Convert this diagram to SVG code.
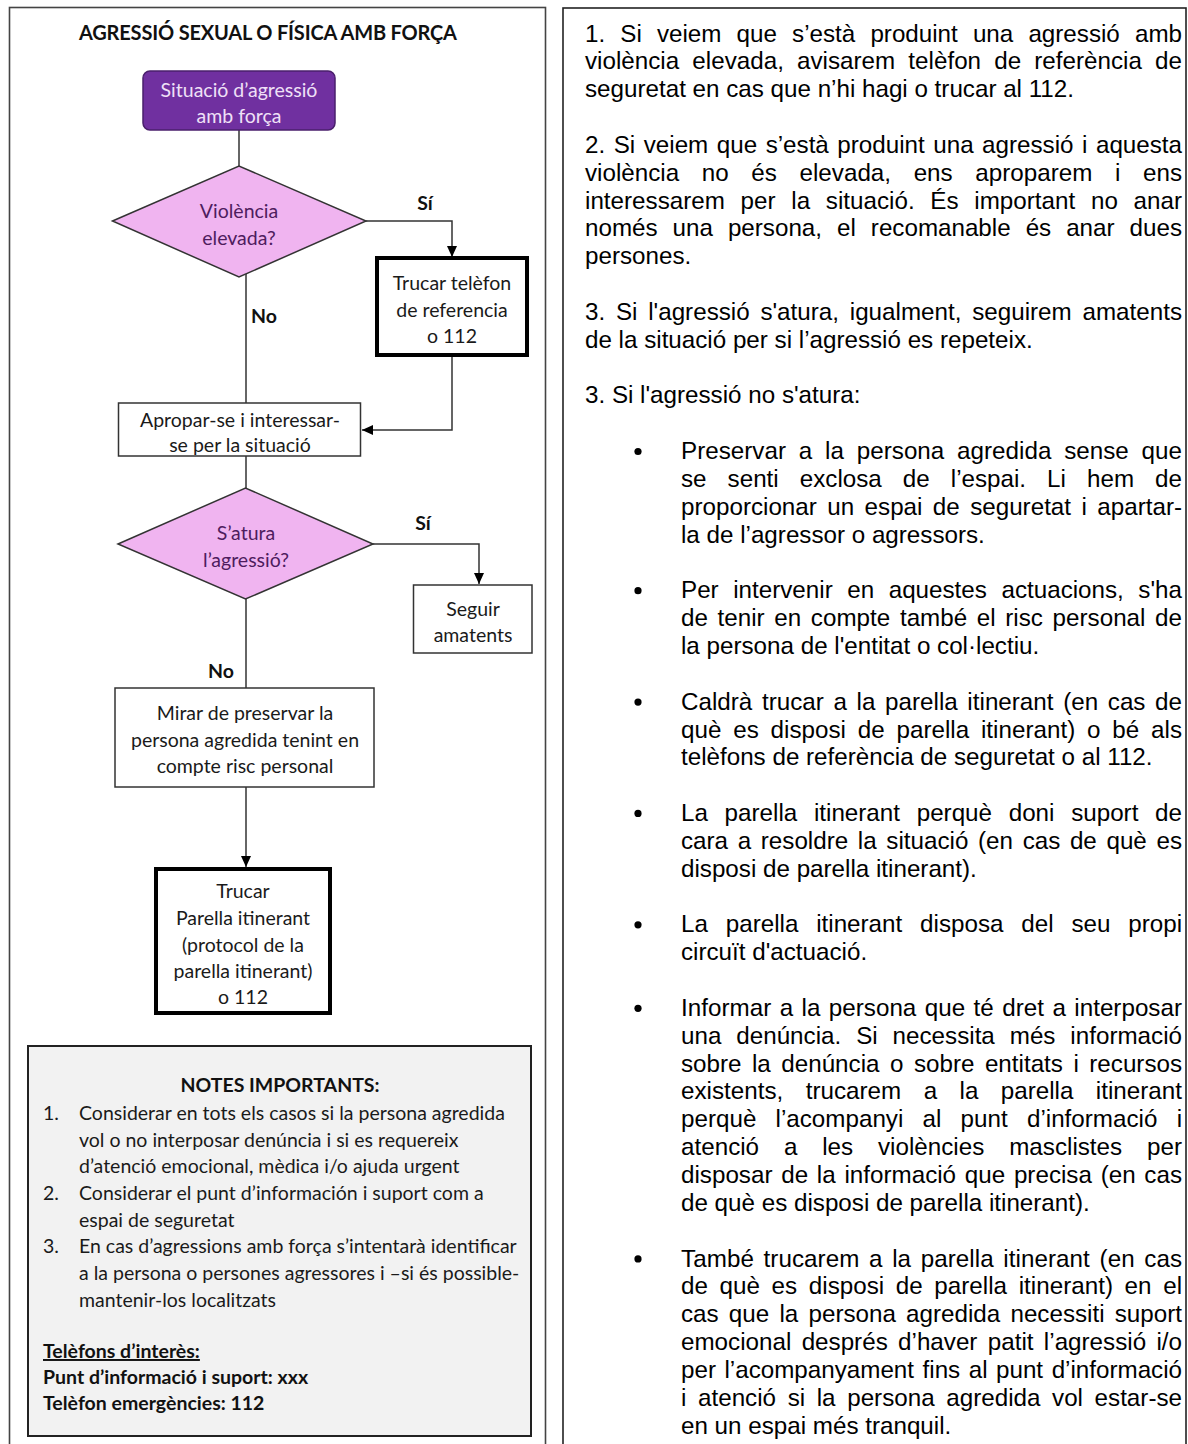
<svg xmlns="http://www.w3.org/2000/svg" width="1188" height="1444" viewBox="0 0 1188 1444">
<style>
.panel{fill:#fff;stroke:#444;stroke-width:1.6}
.box{fill:#fff;stroke:#333;stroke-width:1.5}
.thick{fill:#fff;stroke:#000;stroke-width:4}
.dia{fill:#f0b4f0;stroke:#333;stroke-width:1.5}
.start{fill:#7030a0;stroke:#4a1f6c;stroke-width:1.5}
.notes{fill:#f2f2f2;stroke:#222;stroke-width:2}
.t{font-family:Lato,"Liberation Sans",sans-serif;font-size:19.5px;fill:#1a1a1a;text-anchor:middle}
.tw{font-family:Lato,"Liberation Sans",sans-serif;font-size:19.5px;fill:#efe0f7;text-anchor:middle}
.tp{font-family:Lato,"Liberation Sans",sans-serif;font-size:19.5px;fill:#4e1c5e;text-anchor:middle}
.lb{font-family:Lato,"Liberation Sans",sans-serif;font-size:19.5px;font-weight:bold;fill:#111;text-anchor:middle}
.n{font-family:Lato,"Liberation Sans",sans-serif;font-size:19.5px;fill:#1a1a1a}
.nb{font-family:Lato,"Liberation Sans",sans-serif;font-size:19.5px;font-weight:bold;fill:#111}
.r{font-family:"Liberation Sans",Arial,sans-serif;font-size:24.2px;fill:#000}
.c{fill:none;stroke:#333;stroke-width:1.5}
</style>
<defs>
<marker id="ah" markerUnits="userSpaceOnUse" markerWidth="12" markerHeight="12" viewBox="0 0 12 12" refX="11" refY="6" orient="auto">
<path d="M0,1 L11,6 L0,11 Z" fill="#000"/>
</marker>
</defs>

<g id="panels">
<rect class="panel" x="9.5" y="7.5" width="536" height="1470"/>
<rect class="panel" x="563" y="8" width="623" height="1470" style="stroke:#222"/>
</g>

<g id="title">
<text x="268" y="40" class="lb" style="font-size:20px" textLength="378" lengthAdjust="spacing">AGRESSIÓ SEXUAL O FÍSICA AMB FORÇA</text>
</g>

<g id="connectors">
<path class="c" d="M239,130 L239,166"/>
<path class="c" d="M366,221 L452,221 L452,257" marker-end="url(#ah)"/>
<path class="c" d="M246,274 L246,403"/>
<path class="c" d="M452,355 L452,430 L362,430" marker-end="url(#ah)"/>
<path class="c" d="M246,456 L246,488"/>
<path class="c" d="M373,544 L479,544 L479,584" marker-end="url(#ah)"/>
<path class="c" d="M246,599 L246,688"/>
<path class="c" d="M246,787 L246,867" marker-end="url(#ah)"/>
<text x="425" y="210" class="lb">Sí</text>
<text x="264" y="323" class="lb">No</text>
<text x="423" y="530" class="lb">Sí</text>
<text x="221" y="678" class="lb">No</text>
</g>

<g id="n-start">
<rect class="start" x="143" y="71" width="192" height="59" rx="7"/>
<text x="239" y="97" class="tw">Situació d’agressió</text>
<text x="239" y="123" class="tw">amb força</text>
</g>

<g id="n-violencia">
<polygon class="dia" points="112.5,221 239,166 366,221 239,277"/>
<text x="239" y="218" class="tp">Violència</text>
<text x="239" y="245" class="tp">elevada?</text>
</g>

<g id="n-trucar1">
<rect class="thick" x="377" y="258" width="150" height="97"/>
<text x="452" y="290" class="t">Trucar telèfon</text>
<text x="452" y="316.5" class="t">de referencia</text>
<text x="452" y="343" class="t">o 112</text>
</g>

<g id="n-apropar">
<rect class="box" x="118.5" y="403" width="242" height="53"/>
<text x="240" y="427" class="t">Apropar-se i interessar-</text>
<text x="240" y="452" class="t">se per la situació</text>
</g>

<g id="n-satura">
<polygon class="dia" points="118,544 245.5,488 373,544 245.5,599"/>
<text x="246" y="540" class="tp">S’atura</text>
<text x="246" y="567" class="tp">l’agressió?</text>
</g>

<g id="n-seguir">
<rect class="box" x="413.5" y="585" width="118.5" height="68"/>
<text x="473" y="615.5" class="t">Seguir</text>
<text x="473" y="641.5" class="t">amatents</text>
</g>

<g id="n-mirar">
<rect class="box" x="115" y="688" width="259" height="99"/>
<text x="245" y="720" class="t">Mirar de preservar la</text>
<text x="245" y="746.5" class="t">persona agredida tenint en</text>
<text x="245" y="773" class="t">compte risc personal</text>
</g>

<g id="n-trucar2">
<rect class="thick" x="156" y="869" width="174" height="144"/>
<text x="243" y="898" class="t">Trucar</text>
<text x="243" y="925" class="t">Parella itinerant</text>
<text x="243" y="951.5" class="t">(protocol de la</text>
<text x="243" y="977.5" class="t">parella itinerant)</text>
<text x="243" y="1004" class="t">o 112</text>
</g>

<g id="n-notes">
<rect class="notes" x="28" y="1046" width="503" height="390"/>
<text x="280" y="1092" class="lb">NOTES IMPORTANTS:</text>
<text x="43" y="1120" class="n">1.</text>
<text x="79" y="1120" class="n">Considerar en tots els casos si la persona agredida</text>
<text x="79" y="1146.7" class="n">vol o no interposar denúncia i si es requereix</text>
<text x="79" y="1173.3" class="n">d’atenció emocional, mèdica i/o ajuda urgent</text>
<text x="43" y="1200" class="n">2.</text>
<text x="79" y="1200" class="n">Considerar el punt d’información i suport com a</text>
<text x="79" y="1226.7" class="n">espai de seguretat</text>
<text x="43" y="1253.3" class="n">3.</text>
<text x="79" y="1253.3" class="n">En cas d’agressions amb força s’intentarà identificar</text>
<text x="79" y="1280" class="n">a la persona o persones agressores i –si és possible-</text>
<text x="79" y="1306.7" class="n">mantenir-los localitzats</text>
<text x="43" y="1358" class="nb" text-decoration="underline">Telèfons d’interès:</text>
<text x="43" y="1384" class="nb">Punt d’informació i suport: xxx</text>
<text x="43" y="1410" class="nb">Telèfon emergències: 112</text>
</g>

<g id="right-text">
<text class="r" x="585" y="41.5" textLength="597" lengthAdjust="spacing" style="word-spacing:8.4px">1. Si veiem que s’està produint una agressió amb</text>
<text class="r" x="585" y="69.3" textLength="597" lengthAdjust="spacing" style="word-spacing:6.4px">violència elevada, avisarem telèfon de referència de</text>
<text class="r" x="585" y="97.2">seguretat en cas que n’hi hagi o trucar al 112.</text>

<text class="r" x="585" y="152.9" textLength="597" lengthAdjust="spacing" style="word-spacing:1.8px">2. Si veiem que s’està produint una agressió i aquesta</text>
<text class="r" x="585" y="180.7" textLength="597" lengthAdjust="spacing" style="word-spacing:15.9px">violència no és elevada, ens aproparem i ens</text>
<text class="r" x="585" y="208.5" textLength="597" lengthAdjust="spacing" style="word-spacing:9px">interessarem per la situació. És important no anar</text>
<text class="r" x="585" y="236.4" textLength="597" lengthAdjust="spacing" style="word-spacing:8.3px">només una persona, el recomanable és anar dues</text>
<text class="r" x="585" y="264.2">persones.</text>

<text class="r" x="585" y="319.9" textLength="597" lengthAdjust="spacing" style="word-spacing:4px">3. Si l'agressió s'atura, igualment, seguirem amatents</text>
<text class="r" x="585" y="347.7">de la situació per si l’agressió es repeteix.</text>

<text class="r" x="585" y="403.4">3. Si l'agressió no s'atura:</text>

<circle cx="638" cy="451.5" r="3.6"/>
<text class="r" x="681" y="459.1" textLength="501" lengthAdjust="spacing" style="word-spacing:6.1px">Preservar a la persona agredida sense que</text>
<text class="r" x="681" y="486.9" textLength="501" lengthAdjust="spacing" style="word-spacing:14.3px">se senti exclosa de l’espai. Li hem de</text>
<text class="r" x="681" y="514.8" textLength="501" lengthAdjust="spacing" style="word-spacing:3.7px">proporcionar un espai de seguretat i apartar-</text>
<text class="r" x="681" y="542.6">la de l’agressor o agressors.</text>

<circle cx="638" cy="590.7" r="3.6"/>
<text class="r" x="681" y="598.3" textLength="501" lengthAdjust="spacing" style="word-spacing:7.8px">Per intervenir en aquestes actuacions, s'ha</text>
<text class="r" x="681" y="626.1" textLength="501" lengthAdjust="spacing" style="word-spacing:2.9px">de tenir en compte també el risc personal de</text>
<text class="r" x="681" y="654">la persona de l'entitat o col·lectiu.</text>

<circle cx="638" cy="702.1" r="3.6"/>
<text class="r" x="681" y="709.7" textLength="501" lengthAdjust="spacing" style="word-spacing:2.9px">Caldrà trucar a la parella itinerant (en cas de</text>
<text class="r" x="681" y="737.5" textLength="501" lengthAdjust="spacing" style="word-spacing:5.1px">què es disposi de parella itinerant) o bé als</text>
<text class="r" x="681" y="765.3">telèfons de referència de seguretat o al 112.</text>

<circle cx="638" cy="813.4" r="3.6"/>
<text class="r" x="681" y="821" textLength="501" lengthAdjust="spacing" style="word-spacing:10px">La parella itinerant perquè doni suport de</text>
<text class="r" x="681" y="848.9" textLength="501" lengthAdjust="spacing" style="word-spacing:2.9px">cara a resoldre la situació (en cas de què es</text>
<text class="r" x="681" y="876.7">disposi de parella itinerant).</text>

<circle cx="638" cy="924.8" r="3.6"/>
<text class="r" x="681" y="932.4" textLength="501" lengthAdjust="spacing" style="word-spacing:11.1px">La parella itinerant disposa del seu propi</text>
<text class="r" x="681" y="960.2">circuït d'actuació.</text>

<circle cx="638" cy="1008.3" r="3.6"/>
<text class="r" x="681" y="1015.9" textLength="501" lengthAdjust="spacing" style="word-spacing:1.7px">Informar a la persona que té dret a interposar</text>
<text class="r" x="681" y="1043.7" textLength="501" lengthAdjust="spacing" style="word-spacing:8.2px">una denúncia. Si necessita més informació</text>
<text class="r" x="681" y="1071.6" textLength="501" lengthAdjust="spacing" style="word-spacing:3.8px">sobre la denúncia o sobre entitats i recursos</text>
<text class="r" x="681" y="1099.4" textLength="501" lengthAdjust="spacing" style="word-spacing:15.7px">existents, trucarem a la parella itinerant</text>
<text class="r" x="681" y="1127.3" textLength="501" lengthAdjust="spacing" style="word-spacing:12.5px">perquè l’acompanyi al punt d’informació i</text>
<text class="r" x="681" y="1155.1" textLength="501" lengthAdjust="spacing" style="word-spacing:18.1px">atenció a les violències masclistes per</text>
<text class="r" x="681" y="1182.9" textLength="501" lengthAdjust="spacing" style="word-spacing:2px">disposar de la informació que precisa (en cas</text>
<text class="r" x="681" y="1210.8">de què es disposi de parella itinerant).</text>

<circle cx="638" cy="1258.9" r="3.6"/>
<text class="r" x="681" y="1266.5" textLength="501" lengthAdjust="spacing" style="word-spacing:2.8px">També trucarem a la parella itinerant (en cas</text>
<text class="r" x="681" y="1294.3" textLength="501" lengthAdjust="spacing" style="word-spacing:4.9px">de què es disposi de parella itinerant) en el</text>
<text class="r" x="681" y="1322.1" textLength="501" lengthAdjust="spacing" style="word-spacing:3.5px">cas que la persona agredida necessiti suport</text>
<text class="r" x="681" y="1350" textLength="501" lengthAdjust="spacing" style="word-spacing:3.6px">emocional després d’haver patit l’agressió i/o</text>
<text class="r" x="681" y="1377.8" textLength="501" lengthAdjust="spacing" style="word-spacing:1.8px">per l’acompanyament fins al punt d’informació</text>
<text class="r" x="681" y="1405.7" textLength="501" lengthAdjust="spacing" style="word-spacing:4.9px">i atenció si la persona agredida vol estar-se</text>
<text class="r" x="681" y="1433.5">en un espai més tranquil.</text>
</g>
</svg>
